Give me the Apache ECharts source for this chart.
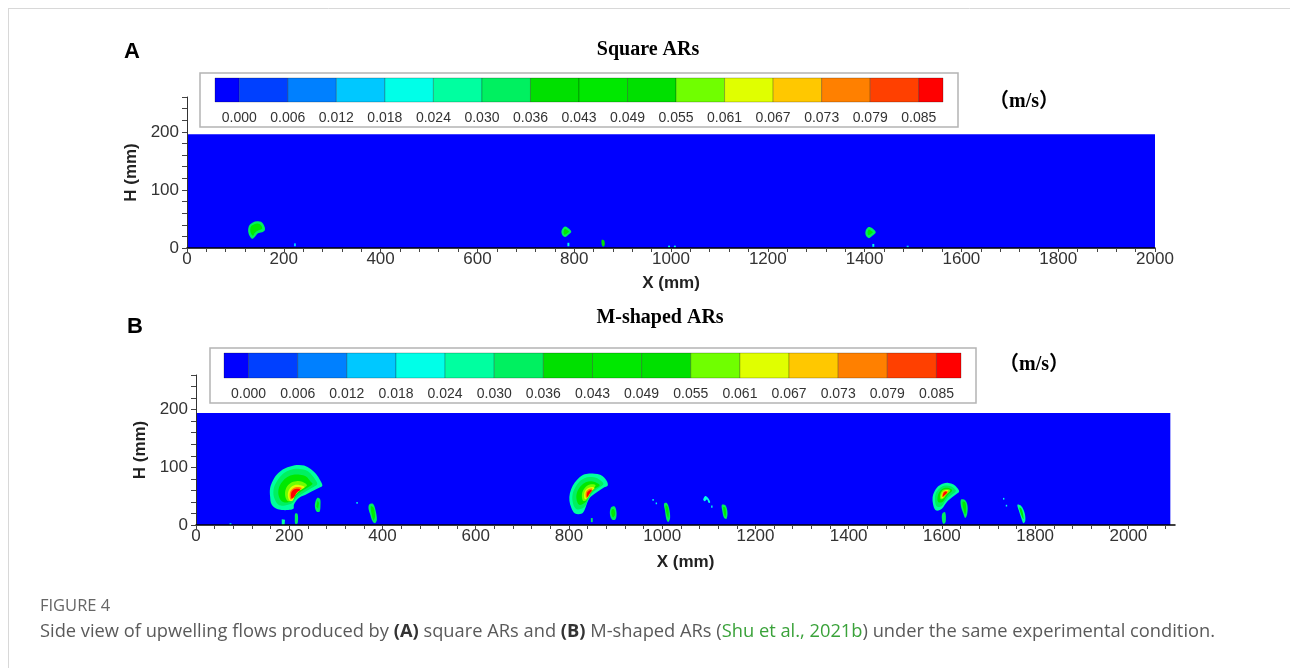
<!DOCTYPE html>
<html>
<head>
<meta charset="utf-8">
<script src="https://cdn.jsdelivr.net/npm/echarts@6/dist/echarts.min.js"></script>
<style>
html,body{margin:0;padding:0;background:#fff;}
#main{width:1290px;height:668px;}
</style>
</head>
<body>
<div id="main"></div>
<script>
// legend colours, one per velocity band (first and last are the half cells)
const levelColors = ['#0000FF','#0040FF','#0080FF','#00C8FF','#00FFE8','#00FFA0','#00F060','#00E000',
                     '#00E800','#00E000','#70FF00','#E0FF00','#FFC800','#FF8000','#FF4000','#FF0000'];
const levelLabels = ['0.000','0.006','0.012','0.018','0.024','0.030','0.036','0.043',
                     '0.049','0.055','0.061','0.067','0.073','0.079','0.085'];
const xLabels = [0,200,400,600,800,1000,1200,1400,1600,1800,2000];
const hLabels = [0,100,200];

// water body [x mm, H mm]
const waterA = [[0,0],[2000,0],[2000,196],[0,196]];
const waterB = [[0,0],[2090,0],[2090,194],[0,194]];

// contour bands: [level index, outline in mm], outer bands first
const bandsA = [
  [6, [[134,16],[127,26],[128,38],[136,44],[145,46],[153,45],[159,39],[161,31],[155,27],[146,25],[140,19]]],
  [8, [[136,21],[131,28],[132,37],[139,41],[146,42],[153,39],[155,33],[147,30],[140,26]]],
  [3, [[221,3],[225,3],[225,8],[221,8]]],
  [6, [[781,37],[788,34],[794,28],[788,23],[781,19],[775,23],[774,30]]],
  [8, [[781,33],[787,30],[789,28],[785,25],[780,23],[778,28]]],
  [4, [[786,3],[790,3],[790,9],[786,9]]],
  [7, [[857,14],[862,13],[863,5],[860,2],[857,5]]],
  [4, [[994,1],[998,1],[998,4],[994,4]]],
  [4, [[1006,1],[1010,1],[1010,4],[1006,4]]],
  [6, [[1408,36],[1416,34],[1423,27],[1416,21],[1409,17],[1403,21],[1402,29]]],
  [8, [[1409,32],[1415,29],[1417,27],[1413,24],[1408,22],[1406,27]]],
  [4, [[1416,2],[1420,2],[1420,7],[1416,7]]],
  [3, [[1487,1],[1491,1],[1491,4],[1487,4]]]
];

const plumeB1 = [
  [5, [[173,28],[162,36],[159,49],[159,64],[165,77],[173,87],[186,96],[200,101],[216,104],[232,103],[246,97],[258,88],[266,78],[271,68],[263,64],[248,58],[234,52],[223,48],[215,42],[210,35],[209,28],[198,26],[184,26]]],
  [6, [[177,35],[167,49],[167,64],[173,75],[182,85],[195,93],[209,97],[223,97],[238,94],[248,87],[257,77],[260,70],[248,64],[234,57],[222,51],[213,45],[207,38],[191,34]]],
  [8, [[184,41],[177,52],[178,65],[185,75],[196,83],[209,87],[223,87],[236,84],[246,75],[250,71],[238,64],[225,58],[215,51],[209,44],[196,39]]],
  [10, [[196,42],[191,53],[194,65],[203,73],[215,76],[228,75],[238,69],[230,64],[219,58],[211,51],[205,42]]],
  [11, [[200,43],[197,53],[201,63],[211,69],[223,69],[233,66],[221,59],[213,52],[207,42]]],
  [13, [[203,44],[201,54],[206,62],[216,66],[227,64],[218,58],[211,50]]],
  [15, [[205,46],[204,55],[209,61],[218,63],[224,61],[216,56],[210,48]]],
  [6, [[260,47],[266,45],[267,35],[265,23],[258,24],[255,35]]],
  [8, [[261,43],[264,38],[262,28],[258,32]]],
  [6, [[213,20],[218,19],[218,3],[213,2],[212,12]]],
  [5, [[184,10],[191,9],[190,0],[184,0]]],
  [4, [[344,37],[347,37],[347,40],[344,40]]],
  [6, [[372,36],[380,36.5],[385,26],[388,9],[384,3],[379,6],[373,20],[370,29]]],
  [8, [[375,32],[381,30],[384,15],[381,8],[377,18]]],
  [4, [[72,0],[76,0],[76,3],[72,3]]]
];

const plumeB2 = [
  [5, [[813,20],[805,30],[801,42],[802,55],[808,68],[817,78],[828,86],[840,89],[855,89],[867,87],[876,82],[882,75],[883,68],[875,65],[862,58],[850,51],[843,45],[838,36],[834,27],[828,20]]],
  [6, [[815,28],[808,40],[808,54],[814,66],[822,75],[833,81],[845,83],[858,82],[868,77],[874,71],[864,64],[852,57],[845,50],[840,42],[835,33],[826,28]]],
  [8, [[822,35],[816,46],[818,58],[826,68],[836,74],[848,76],[860,73],[866,69],[856,63],[847,56],[841,48],[836,40]]],
  [10, [[830,42],[828,54],[834,64],[845,70],[857,69],[850,61],[843,52],[837,43]]],
  [11, [[834,45],[833,56],[839,63],[849,66],[855,64],[847,57],[841,48]]],
  [13, [[837,47],[836,56],[842,62],[850,63],[846,56],[841,49]]],
  [15, [[839,48],[839,56],[844,60],[849,60],[844,54]]],
  [6, [[890,30],[898,32],[902,22],[900,10],[893,9],[888,18]]],
  [8, [[892,27],[897,27],[899,18],[895,13],[891,19]]],
  [6, [[847,12],[851,12],[851,5],[847,5]]],
  [4, [[979,42],[982,42],[982,45],[979,45]]],
  [4, [[986,36],[989,36],[989,39],[986,39]]],
  [6, [[1004,37],[1010,38],[1015,28],[1017,12],[1013,5],[1009,10],[1006,25]]],
  [8, [[1007,33],[1011,33],[1014,22],[1013,12],[1010,18]]],
  [4, [[1088,44],[1092,50],[1097,48],[1103,40],[1100,38],[1096,44],[1091,41]]],
  [4, [[1105,30],[1108,30],[1108,34],[1105,34]]],
  [6, [[1128,35],[1136,34],[1140,22],[1138,11],[1133,12],[1129,24]]],
  [8, [[1131,31],[1135,30],[1137,20],[1135,14],[1132,22]]]
];

const plumeB3 = [
  [5, [[1586,26],[1581,36],[1580,48],[1584,58],[1592,67],[1603,72],[1614,73],[1625,70],[1633,64],[1637,58],[1632,54],[1622,48],[1613,42],[1607,36],[1600,28],[1593,25]]],
  [6, [[1589,32],[1585,44],[1587,55],[1594,63],[1604,68],[1614,68],[1624,65],[1630,59],[1624,54],[1614,48],[1607,41],[1600,33]]],
  [8, [[1592,40],[1591,50],[1596,59],[1605,64],[1615,64],[1622,60],[1615,54],[1608,47],[1601,40]]],
  [10, [[1597,45],[1597,54],[1603,61],[1612,62],[1618,60],[1610,53],[1603,46]]],
  [11, [[1599,47],[1600,55],[1606,60],[1614,60],[1608,53],[1602,47]]],
  [13, [[1601,48],[1602,56],[1608,59],[1613,58],[1607,52]]],
  [15, [[1602,49],[1604,56],[1609,58],[1611,56],[1606,52]]],
  [6, [[1641,44],[1650,43],[1655,33],[1654,18],[1650,12],[1646,20],[1641,32]]],
  [8, [[1644,40],[1650,39],[1652,28],[1650,18],[1646,28]]],
  [6, [[1601,20],[1607,22],[1608,5],[1603,2],[1600,10]]],
  [4, [[1731,44],[1734,44],[1734,47],[1731,47]]],
  [4, [[1737,32],[1740,32],[1740,35],[1737,35]]],
  [5, [[1762,35],[1770,33],[1777,22],[1779,8],[1775,3],[1771,10],[1765,25]]],
  [8, [[1766,30],[1770,29],[1774,20],[1775,10],[1771,16]]]
];

const fieldA = [[0, waterA]].concat(bandsA);
const fieldB = [[0, waterB]].concat(plumeB1, plumeB2, plumeB3);

function stepsTo(max, step) {
  const a = [];
  for (let v = 0; v <= max; v += step) a.push(v);
  return a;
}

const FONT = 'Arial, "Liberation Sans", sans-serif';
const SERIF = '"Liberation Serif", "Times New Roman", "Noto Sans CJK SC", serif';

function fieldSeries(field, idx) {
  return {
    type: 'custom',
    xAxisIndex: idx, yAxisIndex: idx,
    clip: true,
    silent: true,
    data: field.map(f => f[1][0]),
    renderItem: function (params, api) {
      const f = field[params.dataIndex];
      const pts = f[1].map(p => api.coord(p));
      return {
        type: 'polygon',
        shape: { points: pts, smooth: f[1].length > 4 ? 0.35 : 0 },
        style: { fill: levelColors[f[0]] }
      };
    }
  };
}

function barSeries(idx) {
  // cell i spans from label i-1 to label i
  const cells = levelColors.map((c, i) => [Math.max(-0.5, i - 1), Math.min(levelLabels.length - 0.5, i), 0.5]);
  return {
    type: 'custom',
    xAxisIndex: idx, yAxisIndex: idx,
    silent: true,
    encode: { x: [0, 1], y: 2 },
    data: cells,
    renderItem: function (params, api) {
      const s = api.coord([api.value(0), 1]);
      const e = api.coord([api.value(1), 0]);
      return {
        type: 'rect',
        shape: { x: s[0], y: s[1], width: e[0] - s[0], height: e[1] - s[1] },
        style: { fill: levelColors[params.dataIndex], stroke: 'rgba(0,0,0,0.3)', lineWidth: 0.8 }
      };
    }
  };
}

function mainX(grid, max, gap) {
  return {
    gridIndex: grid, type: 'value', min: 0, max: max, z: 10,
    name: 'X (mm)', nameLocation: 'middle', nameGap: gap,
    nameTextStyle: { fontFamily: FONT, fontWeight: 'bold', fontSize: 17, color: '#222' },
    axisLine: { lineStyle: { color: '#000', width: 1.5 } },
    axisTick: { customValues: stepsTo(max, 40), length: 4, lineStyle: { color: '#444' } },
    axisLabel: { customValues: xLabels, formatter: v => String(v), fontFamily: FONT, fontSize: 17, color: '#333', margin: 3 },
    splitLine: { show: false }
  };
}

function mainY(grid, gap) {
  return {
    gridIndex: grid, type: 'value', min: 0, max: 260, z: 10,
    name: 'H (mm)', nameLocation: 'middle', nameGap: gap, nameRotate: 90,
    nameTextStyle: { fontFamily: FONT, fontWeight: 'bold', fontSize: 17, color: '#222' },
    axisLine: { lineStyle: { color: '#333', width: 1 } },
    axisTick: { customValues: stepsTo(260, 20), length: 5, lineStyle: { color: '#444' } },
    axisLabel: { customValues: hLabels, formatter: v => String(v), fontFamily: FONT, fontSize: 17, color: '#333', margin: 8 },
    splitLine: { show: false }
  };
}

function barX(grid) {
  return {
    gridIndex: grid, type: 'value', min: -0.5, max: levelLabels.length - 0.5,
    axisLine: { show: false }, axisTick: { show: false }, splitLine: { show: false },
    axisLabel: {
      customValues: levelLabels.map((l, i) => i),
      formatter: v => levelLabels[Math.round(v)],
      fontFamily: FONT, fontSize: 14, color: '#333', margin: 9
    }
  };
}

function barY(grid) {
  return { gridIndex: grid, type: 'value', min: 0, max: 1, show: false };
}

function txt(x, y, text, font, align) {
  return {
    type: 'text', x: x, y: y, z: 20,
    style: { text: text, font: font, fill: '#000', textAlign: align || 'center', textVerticalAlign: 'middle' }
  };
}

const chart = echarts.init(document.getElementById('main'));
chart.setOption({
  animation: false,
  backgroundColor: '#fff',
  grid: [
    { left: 187, top: 97, width: 968, height: 151 },
    { left: 215, top: 78, width: 728, height: 24 },
    { left: 196, top: 375, width: 979, height: 150 },
    { left: 224, top: 353, width: 737, height: 25 }
  ],
  xAxis: [mainX(0, 2000, 27), barX(1), mainX(2, 2100, 29), barX(3)],
  yAxis: [mainY(0, 44), barY(1), mainY(2, 46), barY(3)],
  series: [fieldSeries(fieldA, 0), barSeries(1), fieldSeries(fieldB, 2), barSeries(3)],
  graphic: [
    { type: 'line', shape: { x1: 8, y1: 8.5, x2: 1290, y2: 8.5 }, style: { stroke: '#d8d8d8', lineWidth: 1 } },
    { type: 'line', shape: { x1: 8.5, y1: 8, x2: 8.5, y2: 668 }, style: { stroke: '#d8d8d8', lineWidth: 1 } },
    { type: 'rect', z: -1, shape: { x: 200, y: 73, width: 758, height: 54 }, style: { fill: '#fff', stroke: '#b4b4b4', lineWidth: 1.5 } },
    { type: 'rect', z: -1, shape: { x: 210, y: 348, width: 766, height: 55 }, style: { fill: '#fff', stroke: '#b4b4b4', lineWidth: 1.5 } },
    txt(132, 52, 'A', 'bold 22px ' + FONT),
    txt(135, 327, 'B', 'bold 22px ' + FONT),
    txt(648, 50, 'Square ARs', 'bold 20px ' + SERIF),
    txt(660, 318, 'M-shaped ARs', 'bold 20px ' + SERIF),
    txt(1024, 102, '（m/s）', 'bold 20px ' + SERIF),
    txt(1034, 365, '（m/s）', 'bold 20px ' + SERIF),
    {
      type: 'text', x: 40, y: 606,
      style: { text: 'FIGURE 4', fontFamily: '"Open Sans", sans-serif', fontSize: 16.5, fill: '#666', textVerticalAlign: 'middle' }
    },
    {
      type: 'text', x: 40, y: 632,
      style: {
        text: 'Side view of upwelling flows produced by {b|(A)} square ARs and {b|(B)} M-shaped ARs ({g|Shu et al., 2021b}) under the same experimental condition.',
        fontFamily: '"Open Sans", sans-serif', fontSize: 18.3, fill: '#5a5a5a', textVerticalAlign: 'middle',
        rich: {
          b: { fontFamily: '"Open Sans", sans-serif', fontSize: 18.3, fontWeight: 'bold', fill: '#333' },
          g: { fontFamily: '"Open Sans", sans-serif', fontSize: 18.3, fill: '#3aa23a' }
        }
      }
    }
  ]
});
window.addEventListener('resize', chart.resize);
</script>
</body>
</html>
